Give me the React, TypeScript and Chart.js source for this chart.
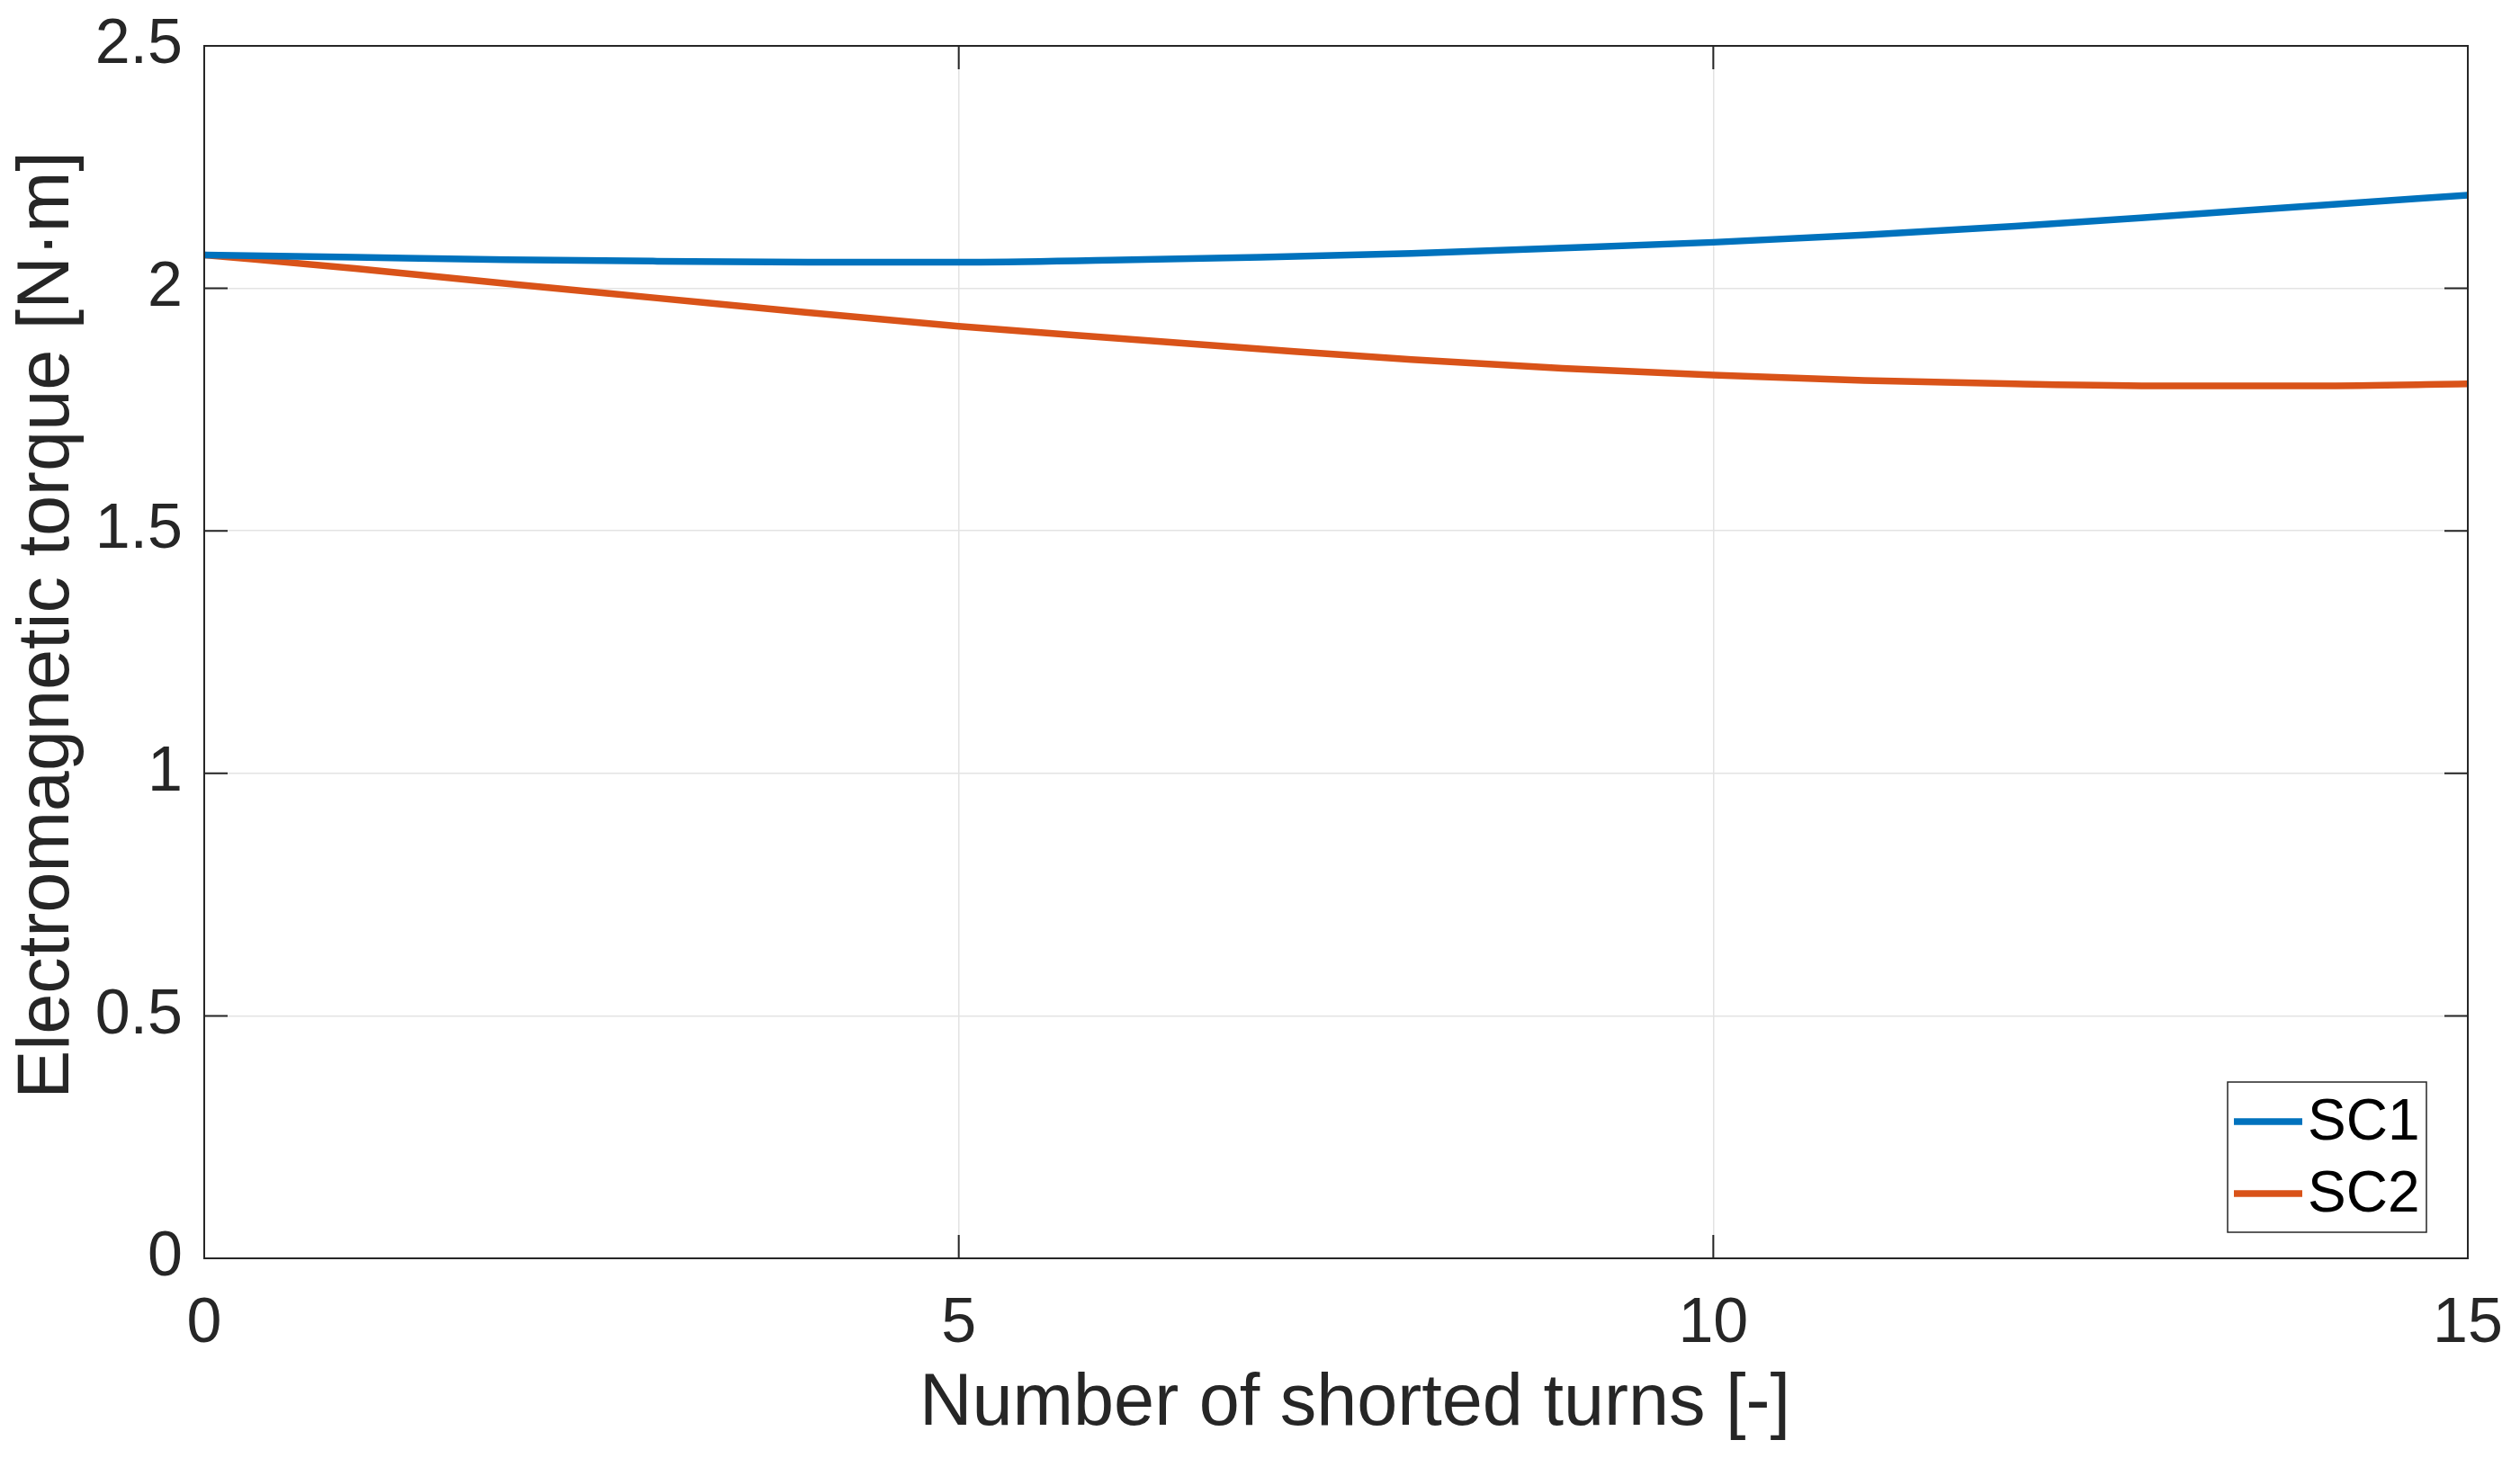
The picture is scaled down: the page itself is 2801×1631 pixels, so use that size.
import React, { useEffect, useRef } from "react";
import { Chart, registerables } from "chart.js";

Chart.register(...registerables);

const turns = [0, 1, 2, 3, 4, 5, 6, 7, 8, 9, 10, 11, 12, 13, 14, 15];
const sc1 = [2.069, 2.064, 2.059, 2.056, 2.054, 2.054, 2.058, 2.064, 2.072, 2.083, 2.095, 2.110, 2.128, 2.149, 2.171, 2.192];
const sc2 = [2.069, 2.041, 2.010, 1.980, 1.950, 1.922, 1.898, 1.875, 1.853, 1.835, 1.821, 1.810, 1.803, 1.799, 1.799, 1.803];
const seriesLabels = ["SC1", "SC2"];
const seriesColors = ["#0072BD", "#D95319"];
const xTicks = [0, 5, 10, 15];
const yTicks = [0, 0.5, 1, 1.5, 2, 2.5];
const xTitle = "Number of shorted turns [-]";
const yTitle = "Electromagnetic torque [N·m]";

const FONT = "'Liberation Sans', Arial, Helvetica, sans-serif";
const AXIS = "#262626";

const boxPlugin = {
  id: "matlabBox",
  afterDatasetsDraw(chart: any) {
    const { ctx, chartArea } = chart;
    const { left, right, top, bottom } = chartArea;
    const xs = chart.scales.x;
    const ys = chart.scales.y;
    const tl = 26;
    ctx.save();
    ctx.strokeStyle = AXIS;
    ctx.lineWidth = 2;
    ctx.beginPath();
    ctx.rect(left, top, right - left, bottom - top);
    ctx.stroke();
    ctx.beginPath();
    for (const v of xTicks) {
      const px = xs.getPixelForValue(v);
      ctx.moveTo(px, bottom);
      ctx.lineTo(px, bottom - tl);
      ctx.moveTo(px, top);
      ctx.lineTo(px, top + tl);
    }
    for (const v of yTicks) {
      const py = ys.getPixelForValue(v);
      ctx.moveTo(left, py);
      ctx.lineTo(left + tl, py);
      ctx.moveTo(right, py);
      ctx.lineTo(right - tl, py);
    }
    ctx.stroke();

    // axis titles
    ctx.fillStyle = AXIS;
    ctx.font = `81px ${FONT}`;
    ctx.textAlign = "center";
    ctx.textBaseline = "middle";
    ctx.fillText(xTitle, (left + right) / 2 + 21, 1562);
    ctx.save();
    ctx.translate(54, (top + bottom) / 2 - 30);
    ctx.rotate(-Math.PI / 2);
    ctx.fillText(yTitle, 0, 0);
    ctx.restore();

    // legend (lower right, inside axes)
    const bw = 221;
    const bh = 167;
    const bx = right - 46 - bw;
    const by = bottom - 29 - bh;
    ctx.fillStyle = "#ffffff";
    ctx.fillRect(bx, by, bw, bh);
    ctx.lineWidth = 1.5;
    ctx.strokeStyle = AXIS;
    ctx.strokeRect(bx, by, bw, bh);
    ctx.font = `64px ${FONT}`;
    ctx.textBaseline = "middle";
    ctx.textAlign = "left";
    chart.data.datasets.forEach((ds: any, i: number) => {
      const ly = by + 44 + i * 80;
      ctx.strokeStyle = ds.borderColor;
      ctx.lineWidth = 7.5;
      ctx.beginPath();
      ctx.moveTo(bx + 7, ly);
      ctx.lineTo(bx + 83, ly);
      ctx.stroke();
      ctx.fillStyle = "#000000";
      ctx.fillText(ds.label, bx + 89, ly + 2);
    });
    ctx.restore();
  },
};

export default function App() {
  const ref = useRef<HTMLCanvasElement | null>(null);
  useEffect(() => {
    if (!ref.current) return;
    const chart = new Chart(ref.current, {
      type: "line",
      data: {
        datasets: [sc1, sc2].map((arr, i) => ({
          label: seriesLabels[i],
          data: turns.map((t, j) => ({ x: t, y: arr[j] })),
          borderColor: seriesColors[i],
          backgroundColor: seriesColors[i],
          borderWidth: 7.5,
          pointRadius: 0,
          cubicInterpolationMode: "monotone" as const,
          fill: false,
        })),
      },
      options: {
        animation: false,
        responsive: true,
        maintainAspectRatio: false,
        devicePixelRatio: 1,
        layout: { padding: { top: 51, right: 58, left: 0, bottom: 0 } },
        plugins: { legend: { display: false }, tooltip: { enabled: false } },
        scales: {
          x: {
            type: "linear",
            min: 0,
            max: 15,
            afterBuildTicks: (s: any) => {
              s.ticks = xTicks.map((v) => ({ value: v }));
            },
            afterFit: (s: any) => {
              s.height = 232;
              s.paddingLeft = 0;
              s.paddingRight = 0;
            },
            grid: { color: "#e3e3e3", lineWidth: 1.5, drawTicks: false },
            border: { display: false },
            ticks: {
              color: AXIS,
              padding: 32,
              font: { family: FONT, size: 70 },
              callback: (v: any) => String(v),
              maxRotation: 0,
            },
            title: { display: false },
          },
          y: {
            type: "linear",
            min: 0,
            max: 2.5,
            afterBuildTicks: (s: any) => {
              s.ticks = yTicks.map((v) => ({ value: v }));
            },
            afterFit: (s: any) => {
              s.width = 227;
              s.paddingTop = 0;
              s.paddingBottom = 0;
            },
            grid: { color: "#e3e3e3", lineWidth: 1.5, drawTicks: false },
            border: { display: false },
            ticks: {
              color: AXIS,
              padding: 24,
              font: { family: FONT, size: 70 },
              callback: (v: any) => String(v),
            },
            title: { display: false },
          },
        },
      },
      plugins: [boxPlugin],
    });
    return () => chart.destroy();
  }, []);
  return (
    <div style={{ position: "fixed", left: 0, top: 0, width: "2801px", height: "1631px", background: "#fff" }}>
      <canvas ref={ref} />
    </div>
  );
}
